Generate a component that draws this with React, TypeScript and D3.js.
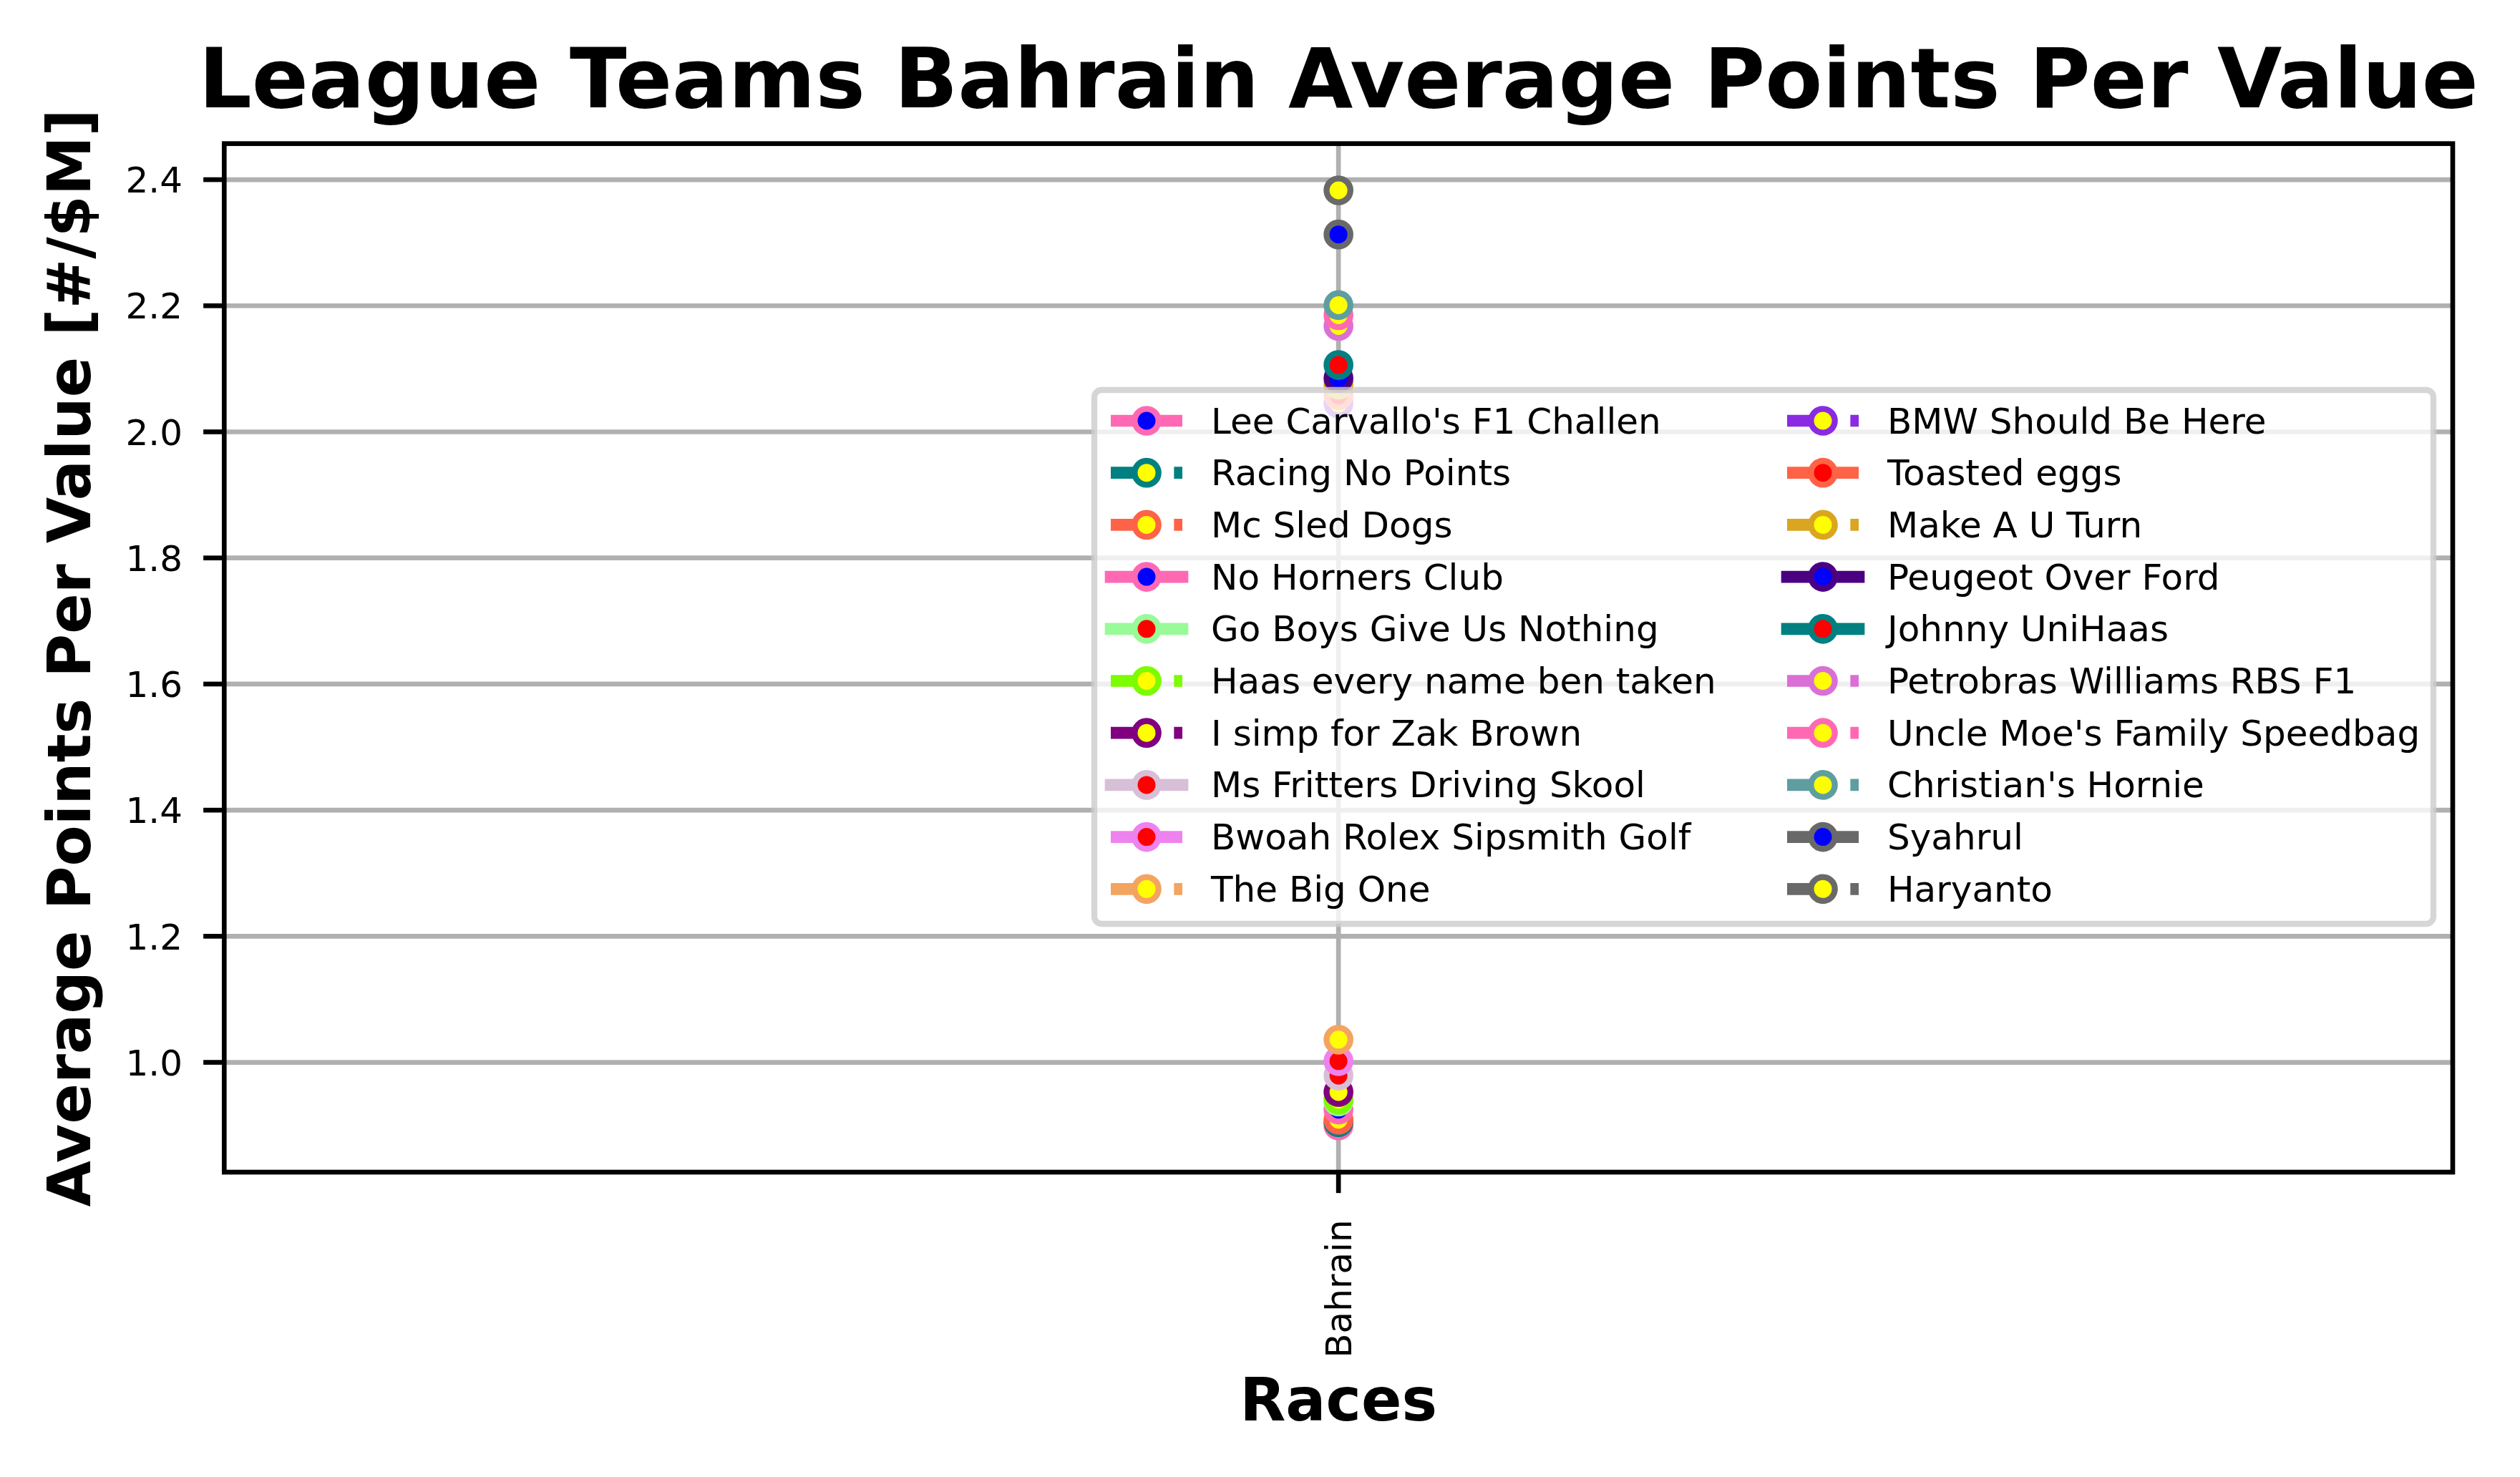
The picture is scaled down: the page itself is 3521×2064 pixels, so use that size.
import React from 'react';
import * as d3 from 'd3';

const races = ['Bahrain'];

const teams = [
  "Lee Carvallo's F1 Challen",
  'Racing No Points',
  'Mc Sled Dogs',
  'No Horners Club',
  'Go Boys Give Us Nothing',
  'Haas every name ben taken',
  'I simp for Zak Brown',
  'Ms Fritters Driving Skool',
  'Bwoah Rolex Sipsmith Golf',
  'The Big One',
  'BMW Should Be Here',
  'Toasted eggs',
  'Make A U Turn',
  'Peugeot Over Ford',
  'Johnny UniHaas',
  'Petrobras Williams RBS F1',
  "Uncle Moe's Family Speedbag",
  "Christian's Hornie",
  'Syahrul',
  'Haryanto',
];

// average points per value at Bahrain, one per team
const bahrainValues = [
  0.900, 0.905, 0.909, 0.925, 0.938, 0.941, 0.953, 0.979, 1.002, 1.036,
  2.045, 2.058, 2.075, 2.085, 2.106, 2.168, 2.185, 2.201, 2.313, 2.383,
];

const yTicks = [1.0, 1.2, 1.4, 1.6, 1.8, 2.0, 2.2, 2.4];

// styles per team
const lineColors = [
  '#ff69b4', '#008080', '#ff6347', '#ff69b4', '#98fb98', '#7cfc00', '#800080', '#d8bfd8', '#ee82ee', '#f4a460',
  '#8a2be2', '#ff6347', '#daa520', '#4b0082', '#008080', '#da70d6', '#ff69b4', '#5f9ea0', '#696969', '#696969',
];
const faceColors = [
  'blue', 'yellow', 'yellow', 'blue', 'red', 'yellow', 'yellow', 'red', 'red', 'yellow',
  'yellow', 'red', 'yellow', 'blue', 'red', 'yellow', 'yellow', 'yellow', 'blue', 'yellow',
];
const lineStyles = [
  '-.', '--', '--', '-', '-', '--', '--', '-', '-.', '--',
  '--', '-.', '--', '-', '-', '--', '--', '--', '-.', '--',
];

const W = 3521;
const H = 2064;
const pt = 600 / 72; // figure saved at 600 dpi
const left = 313.3, right = 3427, top = 200.7, bottom = 1638;
const font = 'DejaVu Sans, sans-serif';

const lw = 2 * pt;
// matplotlib dash patterns, scaled by line width
const dashFor = (s: string) =>
  s === '--' ? `${3.7 * lw} ${1.6 * lw}` : s === '-.' ? `${6.4 * lw} ${1.6 * lw} ${1 * lw} ${1.6 * lw}` : undefined;

export default function App() {
  const [lo, hi] = d3.extent(bahrainValues) as [number, number];
  const pad = (hi - lo) * 0.05;
  const y = d3.scaleLinear().domain([lo - pad, hi + pad]).range([bottom, top]);
  const x = d3.scalePoint<string>().domain(races).range([left, right]).padding(0.5);

  const markerR = 2 * pt;
  const mew = 1 * pt;
  const spineW = 0.8 * pt;
  const tickLen = 3.5 * pt;

  const rowH = 72.7;
  const legX = 1529, legY = 545, legW = 1871, legH = 746;
  const colOffsets = [1552, 2497];

  return (
    <svg width={W} height={H} style={{ position: 'absolute', left: 0, top: 0, display: 'block', background: 'white' }}>
      <rect x={0} y={0} width={W} height={H} fill="white" />
      {/* grid */}
      <g stroke="#b0b0b0" strokeWidth={spineW}>
        {yTicks.map((t) => (
          <line key={t} x1={left} x2={right} y1={y(t)} y2={y(t)} />
        ))}
        {races.map((r) => (
          <line key={r} x1={x(r)} x2={x(r)} y1={top} y2={bottom} />
        ))}
      </g>

      {/* points */}
      {teams.map((t, i) => (
        <circle
          key={t}
          cx={x(races[0])}
          cy={y(bahrainValues[i])}
          r={markerR}
          fill={faceColors[i]}
          stroke={lineColors[i]}
          strokeWidth={mew}
        />
      ))}

      {/* spines */}
      <rect x={left} y={top} width={right - left} height={bottom - top} fill="none" stroke="black" strokeWidth={spineW} />

      {/* y ticks */}
      {yTicks.map((t) => (
        <g key={t}>
          <line x1={left - tickLen} x2={left} y1={y(t)} y2={y(t)} stroke="black" strokeWidth={spineW} />
          <text x={left - tickLen - 3.5 * pt} y={y(t) + 18.2} textAnchor="end" fontFamily={font} fontSize={50}>
            {t.toFixed(1)}
          </text>
        </g>
      ))}

      {/* x ticks */}
      {races.map((r) => (
        <g key={r}>
          <line x1={x(r)} x2={x(r)} y1={bottom} y2={bottom + tickLen} stroke="black" strokeWidth={spineW} />
          <text
            transform={`translate(${(x(r) as number) + 18},${bottom + tickLen + 3.5 * pt + 8}) rotate(-90)`}
            textAnchor="end"
            fontFamily={font}
            fontSize={50}
          >
            {r}
          </text>
        </g>
      ))}

      {/* labels */}
      <text x={(left + right) / 2} y={150} textAnchor="middle" fontFamily={font} fontWeight="bold" fontSize={14 * pt}>
        League Teams Bahrain Average Points Per Value
      </text>
      <text x={(left + right) / 2} y={1985} textAnchor="middle" fontFamily={font} fontWeight="bold" fontSize={10 * pt}>
        Races
      </text>
      <text
        transform={`translate(126,${(top + bottom) / 2}) rotate(-90)`}
        textAnchor="middle"
        fontFamily={font}
        fontWeight="bold"
        fontSize={10 * pt}
      >
        Average Points Per Value [#/$M]
      </text>

      {/* legend */}
      <rect x={legX} y={legY} width={legW} height={legH} rx={10} ry={10} fill="white" fillOpacity={0.8} stroke="#cccccc" strokeOpacity={0.8} strokeWidth={pt} />
      {teams.map((t, i) => {
        const col = Math.floor(i / 10);
        const row = i % 10;
        const hx = colOffsets[col];
        const cy = 588 + row * rowH;
        const style = lineStyles[i];
        return (
          <g key={t}>
            <line
              x1={hx}
              x2={hx + 100}
              y1={cy}
              y2={cy}
              stroke={lineColors[i]}
              strokeWidth={lw}
              strokeLinecap={style === '-' ? 'square' : 'butt'}
              strokeDasharray={dashFor(style)}
            />
            <circle cx={hx + 50} cy={cy} r={markerR} fill={faceColors[i]} stroke={lineColors[i]} strokeWidth={mew} />
            <text x={hx + 140} y={cy + 17.5} fontFamily={font} fontSize={50}>
              {t}
            </text>
          </g>
        );
      })}
    </svg>
  );
}
